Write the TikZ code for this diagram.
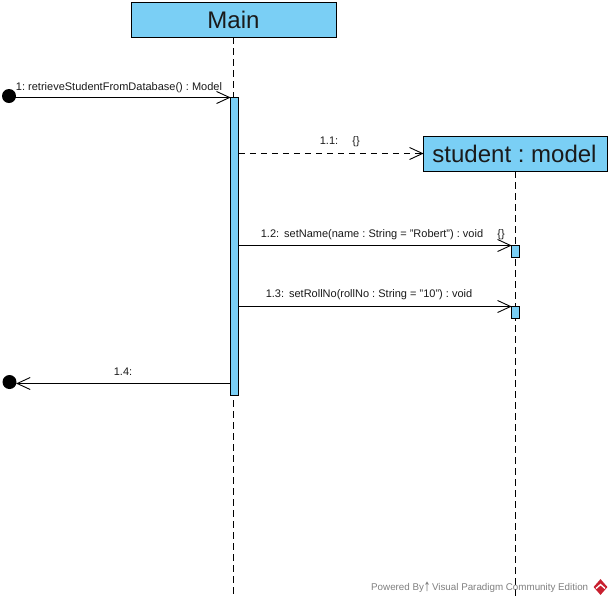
\documentclass[tikz,border=0pt]{standalone}
\usepackage{fontspec}
\setmainfont{Liberation Sans}
\frenchspacing
\usetikzlibrary{arrows,arrows.meta,shapes.geometric}
\pgfarrowsdeclare{openv}{openv}{\pgfarrowsleftextend{-13pt}\pgfarrowsrightextend{0.5pt}}{%
  \pgfsetdash{}{0pt}\pgfsetlinewidth{.9pt}\pgfsetmiterjoin
  \pgfpathmoveto{\pgfpoint{-13pt}{6pt}}\pgfpathlineto{\pgfpoint{0pt}{0pt}}\pgfpathlineto{\pgfpoint{-13pt}{-6pt}}\pgfusepathqstroke}
\definecolor{vpblue}{HTML}{7ACFF5}
\definecolor{txt}{HTML}{1A1A1A}
\definecolor{vpred}{HTML}{C8202F}
\tikzset{
  x=1pt,y=-1pt,
  lifebox/.style={draw=black,fill=vpblue,line width=.9pt,inner sep=0pt,text=txt,font=\fontsize{24}{24}\selectfont},
  activation/.style={draw=black,fill=vpblue,line width=.8pt,inner sep=0pt,minimum width=8pt},
  lifeline/.style={draw=black,line width=1pt,dash pattern=on 7pt off 4pt},
  msg/.style={draw=black,line width=1pt,-openv},
  dmsg/.style={msg,dash pattern=on 6pt off 5pt},
  endpoint/.style={circle,fill=black,inner sep=0pt,minimum size=14pt},
  lab/.style={inner sep=0pt,text=txt,font=\fontsize{11}{12}\selectfont,anchor=base},
}
\begin{document}
\begin{tikzpicture}
\useasboundingbox (0,0) rectangle (612,603);
\fill[white] (0,0) rectangle (612,603);
% lifeline heads
\node[lifebox,minimum width=205pt,minimum height=35pt] (main) at (233.5,19.5) {Main};
\node[lifebox,minimum width=184pt,minimum height=35pt] (student) at (515.5,153.5) {\hspace{-2pt}student : model};
\coordinate (mainend) at (233.5,598);
\coordinate (studentend) at (515.5,598);
\draw[lifeline] (main.south) -- (mainend);
\draw[lifeline] (student.south) -- (studentend);
% activations
\node[activation,minimum height=298pt] (mainact) at (234.5,246.5) {};
\node[activation,minimum height=12pt] (act2) at (515.5,251.5) {};
\node[activation,minimum height=12pt] (act3) at (515.5,312.5) {};
% end points
\node[endpoint] (found) at (9,96) {};
\node[endpoint] (lost) at (9.5,382) {};
% anchors on the main activation
\coordinate (m1) at (mainact.west |- 0,97.5);
\coordinate (m2) at (mainact.east |- 0,153.5);
\coordinate (m3) at (mainact.east |- 0,245.5);
\coordinate (m4) at (mainact.east |- 0,306.5);
\coordinate (m5) at (mainact.west |- 0,383.5);
% messages
\draw[msg] (found.center |- m1) -- (m1);
\draw[dmsg] (m2) -- (student.west |- m2);
\draw[msg] (m3) -- (act2.west |- m3);
\draw[msg] (m4) -- (act3.west |- m4);
\draw[msg] (m5) -- (lost.east |- m5);
% labels
\node[lab] (l1) at (119,90) {1: retrieveStudentFromDatabase() : Model};
\node[lab] (l2) at (329,144.5) {1.1:};
\node[lab] (l2b) at (356,144.5) {\{\}};
\node[lab] (l3) at (372,237) {1.2:\hspace{5pt}setName(name : String = "Robert") : void};
\node[lab] (l3b) at (501,237) {\{\}};
\node[lab] (l4) at (369,297) {1.3:\hspace{5pt}setRollNo(rollNo : String = "10") : void};
\node[lab] (l5) at (123,375) {1.4:};
% footer
\node[inner sep=0pt,anchor=base west,text=black!50,font=\fontsize{9.8}{12}\selectfont] (foot) at (371,590.5) {Powered By\hspace{8pt}Visual Paradigm Community Edition};
\draw[black!50,line width=.6pt] (427,591) -- (427,582) (425.5,584.5) -- (427,582) -- (428.5,584.5);
\node[diamond,fill=vpred,minimum width=14pt,minimum height=16pt,inner sep=0pt] (logo) at (600.5,587) {};
\draw[white,line width=1.3pt] (596,588.5) -- (600.5,584.5) -- (605,588.5);
\end{tikzpicture}
\end{document}
